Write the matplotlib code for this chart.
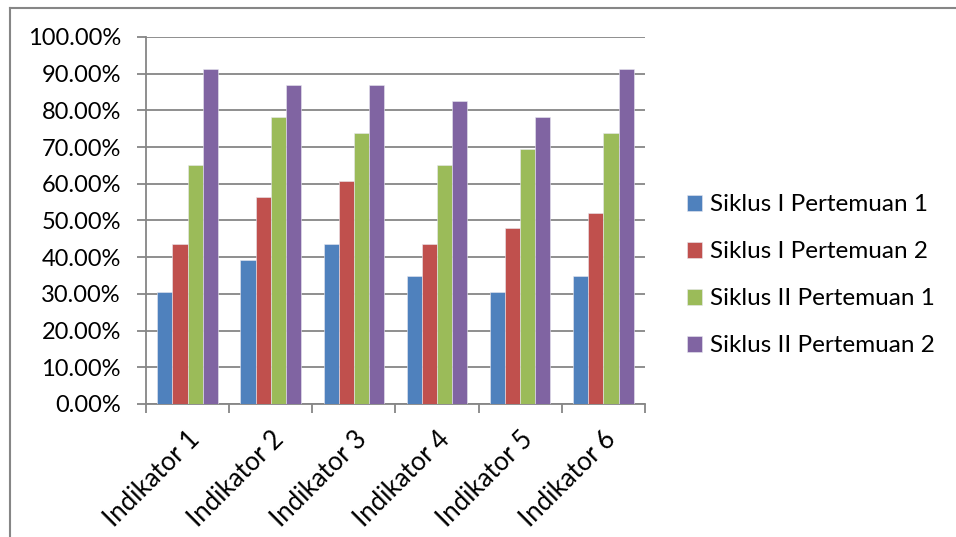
import numpy as np
import matplotlib
matplotlib.use("Agg")
import matplotlib.pyplot as plt
from matplotlib.ticker import FuncFormatter

plt.rcParams['font.family'] = ['Lato', 'DejaVu Sans']

categories = ["Indikator 1", "Indikator 2", "Indikator 3",
              "Indikator 4", "Indikator 5", "Indikator 6"]
series_names = ["Siklus I Pertemuan 1", "Siklus I Pertemuan 2",
                "Siklus II Pertemuan 1", "Siklus II Pertemuan 2"]
s1p1 = [30.43, 39.13, 43.48, 34.78, 30.43, 34.78]
s1p2 = [43.48, 56.52, 60.87, 43.48, 47.83, 52.17]
s2p1 = [65.22, 78.26, 73.91, 65.22, 69.57, 73.91]
s2p2 = [91.30, 86.96, 86.96, 82.61, 78.26, 91.30]
colors = ["#4F81BD", "#C0504D", "#9BBB59", "#8064A2"]

fig = plt.figure(figsize=(9.56, 5.37), dpi=100)
ax = fig.add_axes([0.1527, 0.2477, 0.522, 0.6834])

x = np.arange(len(categories))
width = 1 / 5.5
for i, (vals, name, c) in enumerate(zip([s1p1, s1p2, s2p1, s2p2], series_names, colors)):
    ax.bar(x + (i - 1.5) * width, vals, width, color=c, label=name,
           edgecolor="#e8e8f0", linewidth=0.4, zorder=3)

ax.set_xlim(-0.5, len(categories) - 0.5)
ax.set_ylim(0, 100)
ax.set_yticks(np.arange(0, 101, 10))
ax.yaxis.set_major_formatter(FuncFormatter(lambda v, p: f"{v:.2f}%"))
ax.grid(axis="y", color="#868686", linewidth=1.3, zorder=0)

# category boundaries as tick marks, names centred between them
ax.set_xticks(np.arange(-0.5, len(categories)), minor=False)
ax.set_xticklabels([])
ax.set_xticks(x, minor=True)
ax.set_xticklabels(categories, minor=True, rotation=45, ha="right",
                   rotation_mode="anchor", fontsize=18.5)
ax.tick_params(axis="x", which="minor", length=0, pad=16)
ax.tick_params(axis="x", which="major", length=6.5, color="#868686", width=1.3)
ax.tick_params(axis="y", length=6.5, color="#868686", width=1.3, labelsize=17, pad=11.5)

for side in ["top", "right"]:
    ax.spines[side].set_visible(False)
for side in ["left", "bottom"]:
    ax.spines[side].set_color("#868686")
    ax.spines[side].set_linewidth(1.3)

leg = fig.legend(loc="center left", bbox_to_anchor=(0.6956, 0.487), frameon=False,
                 fontsize=17.5, handlelength=0.62, handleheight=0.62,
                 labelspacing=1.07, handletextpad=0.33)

# outer chart border
fig.add_artist(plt.Line2D([0.0105, 0.0105], [0, 0.985], color="#868686", linewidth=1.5,
                          transform=fig.transFigure))
fig.add_artist(plt.Line2D([0.0105, 1.0], [0.985, 0.985], color="#868686", linewidth=1.5,
                          transform=fig.transFigure))

fig.savefig("out.png", dpi=100)
